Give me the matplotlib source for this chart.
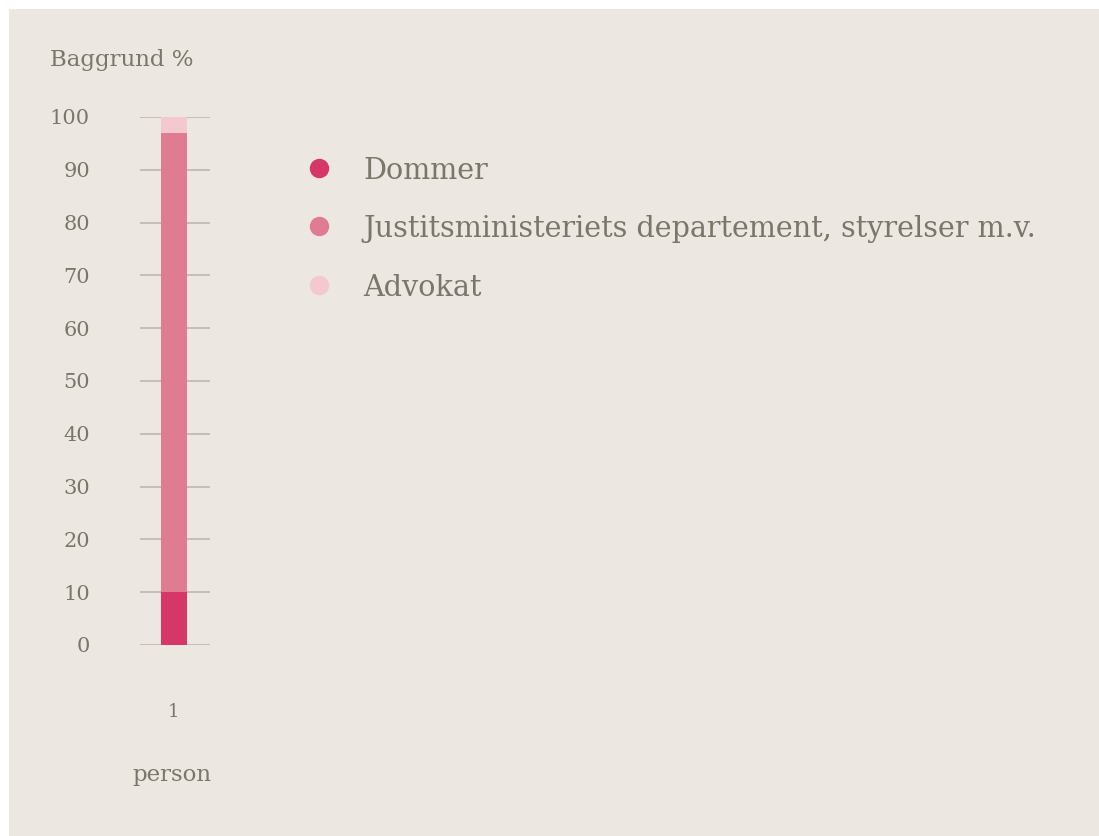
import matplotlib.pyplot as plt
from matplotlib.lines import Line2D
from matplotlib.patches import Rectangle

categories = ["1"]
series_names = ["Dommer", "Justitsministeriets departement, styrelser m.v.", "Advokat"]
series_values = [[10], [87], [3]]
colors = ["#D43768", "#E07C91", "#F3C8CF"]
y_ticks = [0, 10, 20, 30, 40, 50, 60, 70, 80, 90, 100]

bg = "#ECE7E1"
text_col = "#7A7669"
grid_col = "#BDB8B0"

plt.rcParams['font.family'] = ['DejaVu Serif']

W, H = 1099, 836
fig = plt.figure(figsize=(W / 100, H / 100), dpi=100)
fig.patch.set_facecolor("white")
# beige panel, thin white margin at top and left
fig.patches.append(Rectangle((9 / W, 0), 1, 1 - 9 / H, transform=fig.transFigure,
                             facecolor=bg, edgecolor="none", zorder=-10))

# axes = gridline extent: x 140..210, y 117..645 px
ax = fig.add_axes([140 / W, 1 - 645 / H, 70 / W, (645 - 117) / H])
ax.set_facecolor("none")

x = list(range(len(categories)))
bottom = [0] * len(categories)
for name, vals, c in zip(series_names, series_values, colors):
    ax.bar(x, vals, bottom=bottom, width=0.5, color=c, label=name, zorder=2)
    bottom = [b + v for b, v in zip(bottom, vals)]

half = 0.5 * 70 / 26 / 2
ax.set_xlim(-half + 0.02, half + 0.02)
ax.set_ylim(0, 100)
ax.set_yticks(y_ticks)
ax.yaxis.grid(True, color=grid_col, linewidth=1.2, zorder=0)
ax.set_axisbelow(True)
for s in ax.spines.values():
    s.set_visible(False)
ax.tick_params(axis="y", length=0, pad=36, labelsize=15, labelcolor=text_col)
ax.set_yticklabels([str(t) for t in y_ticks])
ax.set_xticks(x)
ax.set_xticklabels(categories)
ax.tick_params(axis="x", length=0, pad=42, labelsize=13, labelcolor=text_col)

fig.text(50 / W, 1 - 60 / H, "Baggrund %", fontsize=16.5, color=text_col,
         ha="left", va="center")
fig.text(172 / W, 1 - 775 / H, "person", fontsize=16.5, color=text_col,
         ha="center", va="center")

# legend drawn by hand: dot + label per series
for i, (name, c) in enumerate(zip(series_names, colors)):
    yy = 1 - (168 + 58.5 * i) / H
    fig.add_artist(Line2D([319 / W], [yy], transform=fig.transFigure, marker="o",
                          linestyle="none", markersize=14, markerfacecolor=c,
                          markeredgecolor="none"))
    fig.text(363 / W, yy, name, fontsize=20.6, color=text_col,
             ha="left", va="center_baseline")

fig.savefig("out.png", dpi=100, facecolor=fig.get_facecolor())
